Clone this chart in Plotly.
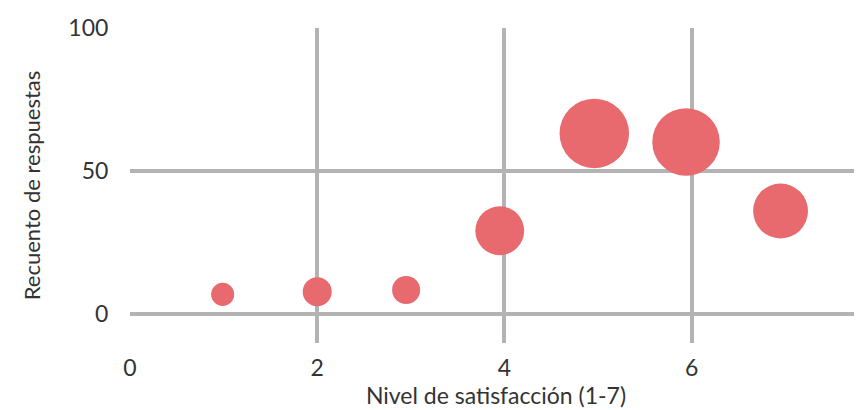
import plotly.graph_objects as go

# Data
satisfaction = [0.99, 2.0, 2.95, 3.95, 4.96, 5.94, 6.95]
counts = [7.0, 7.9, 8.5, 29.2, 63.2, 60.2, 36.1]
bubble_size = [7, 11, 10.3, 31.2, 63.2, 59.6, 39.4]

x_ticks = [0, 2, 4, 6]
y_ticks = [0, 50, 100]

FONT = "Lato, 'Noto Sans', sans-serif"
GRID = "#b3b3b3"
TEXT = "#333333"

fig = go.Figure(
    go.Scatter(
        x=satisfaction,
        y=counts,
        mode="markers",
        marker=dict(
            size=bubble_size,
            sizemode="area",
            sizeref=2 * 63.2 / 69.5 ** 2,
            color="#e8696e",
            opacity=1,
            line=dict(width=0),
        ),
        hoverinfo="x+y",
    )
)

fig.update_layout(
    width=854,
    height=402,
    margin=dict(l=122, r=0, t=20, b=67),
    paper_bgcolor="white",
    plot_bgcolor="white",
    showlegend=False,
    font=dict(family=FONT, color=TEXT, size=23),
    xaxis=dict(
        range=[0, 7.82],
        tickvals=x_ticks,
        showgrid=True,
        gridcolor=GRID,
        gridwidth=4,
        zeroline=False,
        showline=False,
        ticks="outside",
        ticklen=4,
        tickcolor="rgba(0,0,0,0)",
        tickfont=dict(size=23, color=TEXT),
        title=dict(text="Nivel de satisfacción (1-7)", font=dict(size=23, color=TEXT), standoff=8),
    ),
    yaxis=dict(
        range=[-10, 100],
        tickvals=y_ticks,
        showgrid=True,
        gridcolor=GRID,
        gridwidth=4,
        zeroline=False,
        showline=False,
        ticks="outside",
        ticklen=16,
        tickcolor="rgba(0,0,0,0)",
        tickfont=dict(size=23, color=TEXT),
        title=dict(text="Recuento de respuestas", font=dict(size=22, color=TEXT), standoff=21),
    ),
)

fig.write_html("out.html")
